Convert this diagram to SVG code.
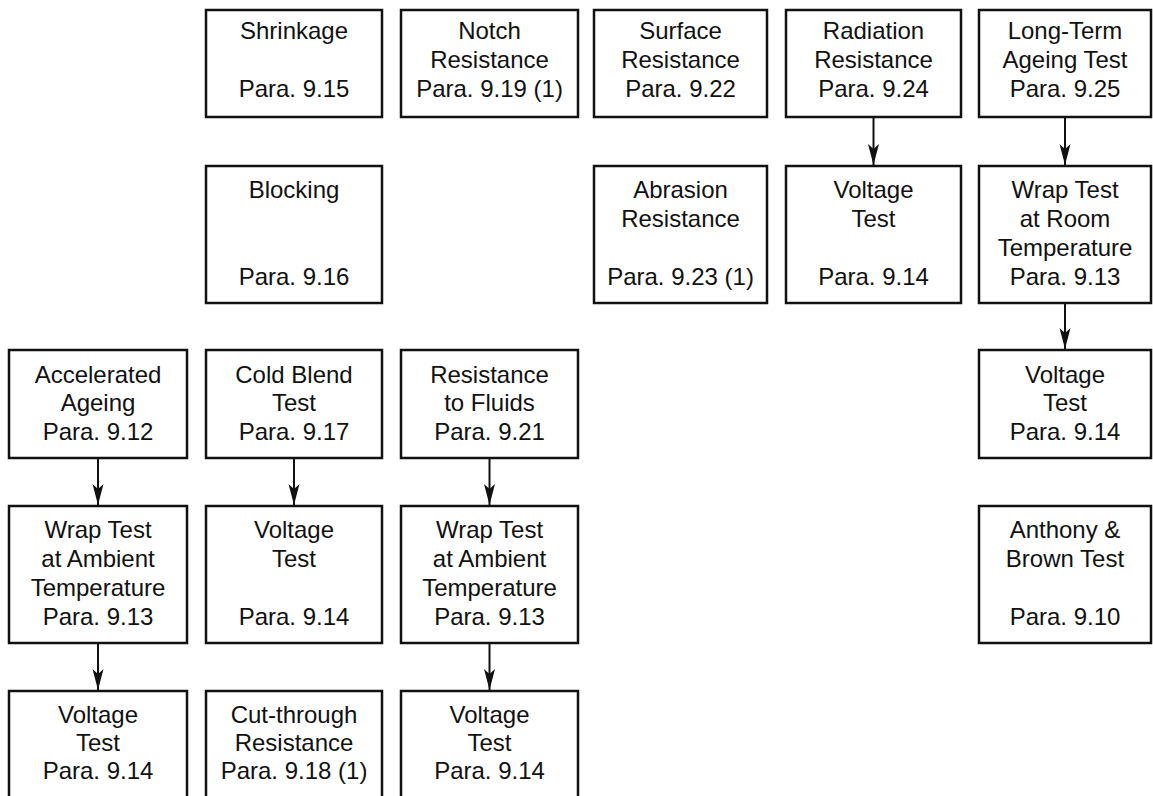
<svg xmlns="http://www.w3.org/2000/svg" width="1153" height="796" viewBox="0 0 1153 796">
<style>
  .box { fill: #fff; stroke: #111; stroke-width: 2.5; }
  .t { font-family: "Liberation Sans", Arial, sans-serif; font-size: 24px; fill: #111; text-anchor: middle; }
  .c { stroke: #111; stroke-width: 2; fill: none; }
</style>
<defs>
  <marker id="ah" markerUnits="userSpaceOnUse" markerWidth="24" markerHeight="14" viewBox="-22 -7 24 14" refX="0" refY="0" orient="auto">
    <path d="M0,0 L-21,-5.5 L-16,0 L-21,5.5 Z" fill="#111"/>
  </marker>
</defs>
<rect width="1153" height="796" fill="#fff"/>

<!-- Row 1 -->
<g id="shrinkage"><rect class="box" x="206" y="10" width="176" height="107"/>
  <text class="t" x="294" y="39">Shrinkage</text><text class="t" x="294" y="97">Para. 9.15</text></g>
<g id="notch"><rect class="box" x="401" y="10" width="177" height="107"/>
  <text class="t" x="489.5" y="39">Notch</text><text class="t" x="489.5" y="68">Resistance</text><text class="t" x="489.5" y="97">Para. 9.19 (1)</text></g>
<g id="surface"><rect class="box" x="594" y="10" width="173" height="107"/>
  <text class="t" x="680.5" y="39">Surface</text><text class="t" x="680.5" y="68">Resistance</text><text class="t" x="680.5" y="97">Para. 9.22</text></g>
<g id="radiation"><rect class="box" x="786" y="10" width="175" height="107"/>
  <text class="t" x="873.5" y="39">Radiation</text><text class="t" x="873.5" y="68">Resistance</text><text class="t" x="873.5" y="97">Para. 9.24</text></g>
<g id="longterm"><rect class="box" x="979" y="10" width="172" height="107"/>
  <text class="t" x="1065" y="39">Long-Term</text><text class="t" x="1065" y="68">Ageing Test</text><text class="t" x="1065" y="97">Para. 9.25</text></g>

<!-- Row 2 -->
<g id="blocking"><rect class="box" x="206" y="166" width="176" height="137"/>
  <text class="t" x="294" y="198">Blocking</text><text class="t" x="294" y="285">Para. 9.16</text></g>
<g id="abrasion"><rect class="box" x="594" y="166" width="173" height="137"/>
  <text class="t" x="680.5" y="198">Abrasion</text><text class="t" x="680.5" y="227">Resistance</text><text class="t" x="680.5" y="285">Para. 9.23 (1)</text></g>
<g id="voltage-e"><rect class="box" x="786" y="166" width="175" height="137"/>
  <text class="t" x="873.5" y="198">Voltage</text><text class="t" x="873.5" y="227">Test</text><text class="t" x="873.5" y="285">Para. 9.14</text></g>
<g id="wrap-room"><rect class="box" x="979" y="166" width="172" height="137"/>
  <text class="t" x="1065" y="198">Wrap Test</text><text class="t" x="1065" y="227">at Room</text><text class="t" x="1065" y="256">Temperature</text><text class="t" x="1065" y="285">Para. 9.13</text></g>

<!-- Row 3 -->
<g id="accelerated"><rect class="box" x="9" y="350" width="178" height="108"/>
  <text class="t" x="98" y="383">Accelerated</text><text class="t" x="98" y="411">Ageing</text><text class="t" x="98" y="440">Para. 9.12</text></g>
<g id="coldblend"><rect class="box" x="206" y="350" width="176" height="108"/>
  <text class="t" x="294" y="383">Cold Blend</text><text class="t" x="294" y="411">Test</text><text class="t" x="294" y="440">Para. 9.17</text></g>
<g id="fluids"><rect class="box" x="401" y="350" width="177" height="108"/>
  <text class="t" x="489.5" y="383">Resistance</text><text class="t" x="489.5" y="411">to Fluids</text><text class="t" x="489.5" y="440">Para. 9.21</text></g>
<g id="voltage-f"><rect class="box" x="979" y="350" width="172" height="108"/>
  <text class="t" x="1065" y="383">Voltage</text><text class="t" x="1065" y="411">Test</text><text class="t" x="1065" y="440">Para. 9.14</text></g>

<!-- Row 4 -->
<g id="wrap-amb-a"><rect class="box" x="9" y="506" width="178" height="137"/>
  <text class="t" x="98" y="538">Wrap Test</text><text class="t" x="98" y="567">at Ambient</text><text class="t" x="98" y="596">Temperature</text><text class="t" x="98" y="625">Para. 9.13</text></g>
<g id="voltage-b"><rect class="box" x="206" y="506" width="176" height="137"/>
  <text class="t" x="294" y="538">Voltage</text><text class="t" x="294" y="567">Test</text><text class="t" x="294" y="625">Para. 9.14</text></g>
<g id="wrap-amb-c"><rect class="box" x="401" y="506" width="177" height="137"/>
  <text class="t" x="489.5" y="538">Wrap Test</text><text class="t" x="489.5" y="567">at Ambient</text><text class="t" x="489.5" y="596">Temperature</text><text class="t" x="489.5" y="625">Para. 9.13</text></g>
<g id="anthony"><rect class="box" x="979" y="506" width="172" height="137"/>
  <text class="t" x="1065" y="538">Anthony &amp;</text><text class="t" x="1065" y="567">Brown Test</text><text class="t" x="1065" y="625">Para. 9.10</text></g>

<!-- Row 5 -->
<g id="voltage-a"><rect class="box" x="9" y="691" width="178" height="115"/>
  <text class="t" x="98" y="723">Voltage</text><text class="t" x="98" y="751">Test</text><text class="t" x="98" y="779">Para. 9.14</text></g>
<g id="cutthrough"><rect class="box" x="206" y="691" width="176" height="115"/>
  <text class="t" x="294" y="723">Cut-through</text><text class="t" x="294" y="751">Resistance</text><text class="t" x="294" y="779">Para. 9.18 (1)</text></g>
<g id="voltage-c"><rect class="box" x="401" y="691" width="177" height="115"/>
  <text class="t" x="489.5" y="723">Voltage</text><text class="t" x="489.5" y="751">Test</text><text class="t" x="489.5" y="779">Para. 9.14</text></g>

<!-- Connectors -->
<g id="connectors">
  <line class="c" x1="873.5" y1="118" x2="873.5" y2="165" marker-end="url(#ah)"/>
  <line class="c" x1="1065" y1="118" x2="1065" y2="165" marker-end="url(#ah)"/>
  <line class="c" x1="1065" y1="304" x2="1065" y2="349" marker-end="url(#ah)"/>
  <line class="c" x1="98" y1="459" x2="98" y2="505" marker-end="url(#ah)"/>
  <line class="c" x1="294" y1="459" x2="294" y2="505" marker-end="url(#ah)"/>
  <line class="c" x1="489.5" y1="459" x2="489.5" y2="505" marker-end="url(#ah)"/>
  <line class="c" x1="98" y1="644" x2="98" y2="690" marker-end="url(#ah)"/>
  <line class="c" x1="489.5" y1="644" x2="489.5" y2="690" marker-end="url(#ah)"/>
</g>
</svg>
